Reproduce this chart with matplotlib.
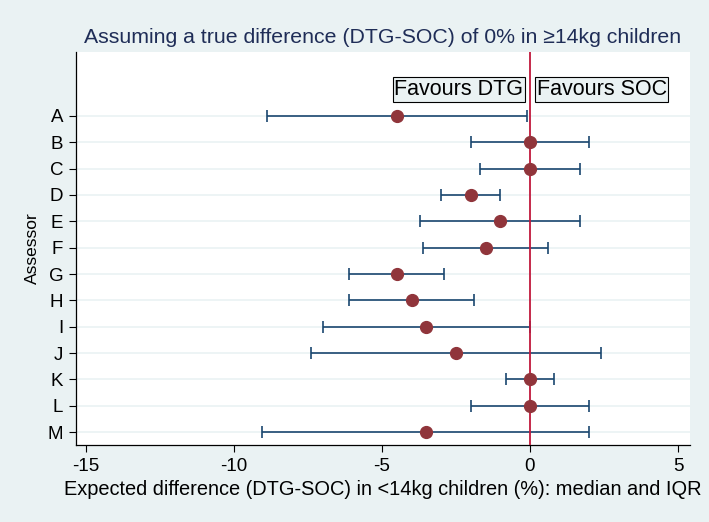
import matplotlib.pyplot as plt
import numpy as np

plt.rcParams['font.family'] = ['Liberation Sans', 'DejaVu Sans']

# data
assessors = ['A', 'B', 'C', 'D', 'E', 'F', 'G', 'H', 'I', 'J', 'K', 'L', 'M']
medians = [-4.5, 0, 0, -2, -1, -1.5, -4.5, -4, -3.5, -2.5, 0, 0, -3.5]
q1 = [-8.9, -2, -1.7, -3, -3.7, -3.6, -6.1, -6.1, -7, -7.4, -0.8, -2, -9.05]
q3 = [-0.1, 2, 1.7, -1, 1.7, 0.6, -2.9, -1.9, 0, 2.4, 0.8, 2, 2]
xticks = [-15, -10, -5, 0, 5]

bg = '#eaf2f3'
navy = '#1a476f'
marker_col = '#90353b'
line_col = '#c0183c'

fig = plt.figure(figsize=(7.09, 5.22), dpi=100, facecolor=bg)
ax = fig.add_axes([0.107, 0.1475, 0.866, 0.753])
ax.set_facecolor('white')

y = np.arange(1, len(assessors) + 1)
med = np.array(medians)
lo = med - np.array(q1)
hi = np.array(q3) - med

ax.errorbar(med, y, xerr=[lo, hi], fmt='none', ecolor=navy, elinewidth=1.2,
            capsize=4, capthick=1.2, zorder=2)
ax.axvline(0, color=line_col, lw=1.3, zorder=3)
ax.plot(med, y, 'o', color=marker_col, markersize=8.5, zorder=4)

# favours labels
box = dict(boxstyle='square,pad=0.08', facecolor=bg, edgecolor='black', lw=0.8)
ax.text(-0.22, 0, 'Favours DTG', ha='right', va='center', fontsize=15.5, bbox=box, zorder=5)
ax.text(0.22, 0, 'Favours SOC', ha='left', va='center', fontsize=15.5, bbox=box, zorder=5)

ax.set_xlim(-15.34, 5.4)
ax.set_ylim(13.49, -1.43)
ax.set_yticks(y)
ax.set_yticklabels(assessors, fontsize=13.5)
ax.set_xticks(xticks)
ax.set_xticklabels([str(t) for t in xticks], fontsize=13.5)
ax.yaxis.grid(True, color=bg, lw=1.2)
ax.set_axisbelow(True)
ax.tick_params(axis='both', direction='out', length=5, width=0.8, colors='black', pad=4)

for s in ['top', 'right']:
    ax.spines[s].set_visible(False)
for s in ['left', 'bottom']:
    ax.spines[s].set_color('black')
    ax.spines[s].set_linewidth(0.9)

ax.set_xlabel('Expected difference (DTG-SOC) in <14kg children (%): median and IQR',
              fontsize=14.4, labelpad=4)
ax.set_ylabel('Assessor', fontsize=12.5, labelpad=6)
fig.text(0.5395, 0.928, 'Assuming a true difference (DTG-SOC) of 0% in \u226514kg children',
         ha='center', va='center', fontsize=15.3, color='#1f2d57')

fig.savefig('out.png', dpi=100, facecolor=bg)
